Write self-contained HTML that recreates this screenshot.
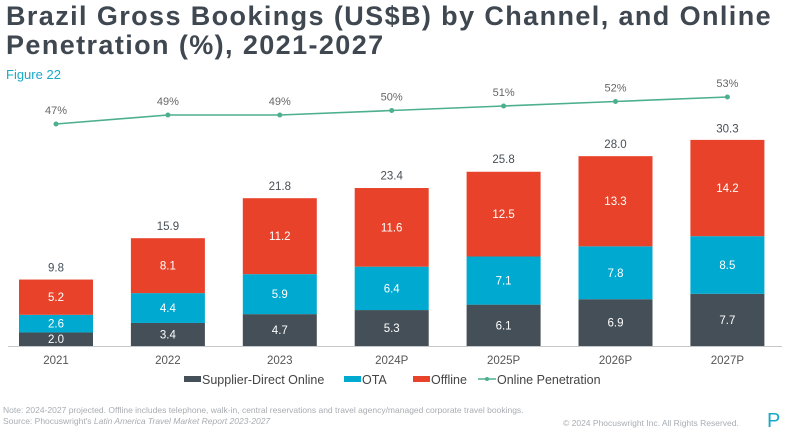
<!DOCTYPE html>
<html><head><meta charset="utf-8"><style>
body{margin:0;width:788px;height:436px;background:#fff;font-family:"Liberation Sans",sans-serif;overflow:hidden;position:relative}
.t{position:absolute;left:6px;top:2px;font-size:27px;font-weight:bold;color:#3f4750;line-height:29px;letter-spacing:1.4px}
.f{position:absolute;left:6px;top:67px;font-size:13px;color:#19a9c7}
.n{position:absolute;left:3px;font-size:8.5px;color:#a8adb2}
</style></head><body>
<div class="t">Brazil Gross Bookings (US$B) by Channel, and Online<br>Penetration (%), 2021-2027</div>
<div class="f">Figure 22</div>
<svg id="c" width="788" height="436" style="position:absolute;left:0;top:0"></svg>
<div class="n" style="top:405px">Note: 2024-2027 projected. Offline includes telephone, walk-in, central reservations and travel agency/managed corporate travel bookings.</div>
<div class="n" style="top:416px">Source: Phocuswright's <i>Latin America Travel Market Report 2023-2027</i></div>
<div class="n" style="top:418px;left:563px">© 2024 Phocuswright Inc. All Rights Reserved.</div>
<div style="position:absolute;left:767px;top:410px;font-size:20px;color:#19a9c7">P</div>
<script>
const categories=["2021","2022","2023","2024P","2025P","2026P","2027P"];
const supplier=[2.0,3.4,4.7,5.3,6.1,6.9,7.7];
const ota=[2.6,4.4,5.9,6.4,7.1,7.8,8.5];
const offline=[5.2,8.1,11.2,11.6,12.5,13.3,14.2];
const totals=[9.8,15.9,21.8,23.4,25.8,28.0,30.3];
const penetration=[47,49,49,50,51,52,53];
const NS="http://www.w3.org/2000/svg";
const svg=document.getElementById('c');
function mk(t,a,p){const e=document.createElementNS(NS,t);for(const k in a)e.setAttribute(k,a[k]);(p||svg).appendChild(e);return e;}
const base=346,k=6.78,x0=56,step=111.9,bw=74;
const xc=i=>x0+i*step;
const y=v=>base-v*k;
const yp=v=>124-(v-47)*4.5;
const cols=["#454f57","#00a9cf","#e8432a"];
const series=[supplier,ota,offline];
mk('line',{x1:8,x2:782,y1:base+0.5,y2:base+0.5,stroke:'#c5c8cb','stroke-width':1});
categories.forEach((c,i)=>{
  let acc=0;
  series.forEach((s,j)=>{
    const r=mk('rect',{x:xc(i)-bw/2,y:y(acc+s[i]),width:bw,height:s[i]*k,fill:cols[j]});
    
    
    const t=mk('text',{x:xc(i),y:y(acc+s[i]/2)+4,'text-anchor':'middle','font-size':11.5,fill:'#fff'});
    t.textContent=s[i].toFixed(1);
    
    
    acc+=s[i];
  });
  const tt=mk('text',{x:xc(i),y:y(totals[i])-8,'text-anchor':'middle','font-size':11.5,fill:'#454f57'});
  tt.textContent=totals[i].toFixed(1);
  
  
  const xl=mk('text',{x:xc(i),y:364,'text-anchor':'middle','font-size':11.5,fill:'#555'});
  xl.textContent=c;
  
  
});
const pl=mk('polyline',{points:penetration.map((v,i)=>xc(i)+','+yp(v)).join(' '),fill:'none',stroke:'#4caf8e','stroke-width':1.6});


penetration.forEach((v,i)=>{
  const d=mk('circle',{cx:xc(i),cy:yp(v),r:2.5,fill:'#4caf8e'});
  
  
  const t=mk('text',{x:xc(i),y:yp(v)-10,'text-anchor':'middle','font-size':11,fill:'#666'});
  t.textContent=v+'%';
  
  
});
const leg=[["Supplier-Direct Online",184,cols[0]],["OTA",344,cols[1]],["Offline",413,cols[2]]];
leg.forEach(l=>{
  const g=mk('g',{});
  
  
  mk('rect',{x:l[1],y:376,width:17,height:6,fill:l[2]},g);
  const t=mk('text',{x:l[1]+18,y:384,'font-size':12.5,fill:'#444'},g);t.textContent=l[0];
});
const g=mk('g',{});


mk('line',{x1:478,x2:496,y1:379,y2:379,stroke:'#4caf8e','stroke-width':1.5},g);
mk('circle',{cx:487,cy:379,r:2,fill:'#4caf8e'},g);
const t=mk('text',{x:497,y:384,'font-size':12.5,fill:'#444'},g);t.textContent="Online Penetration";
</script>
</body></html>
